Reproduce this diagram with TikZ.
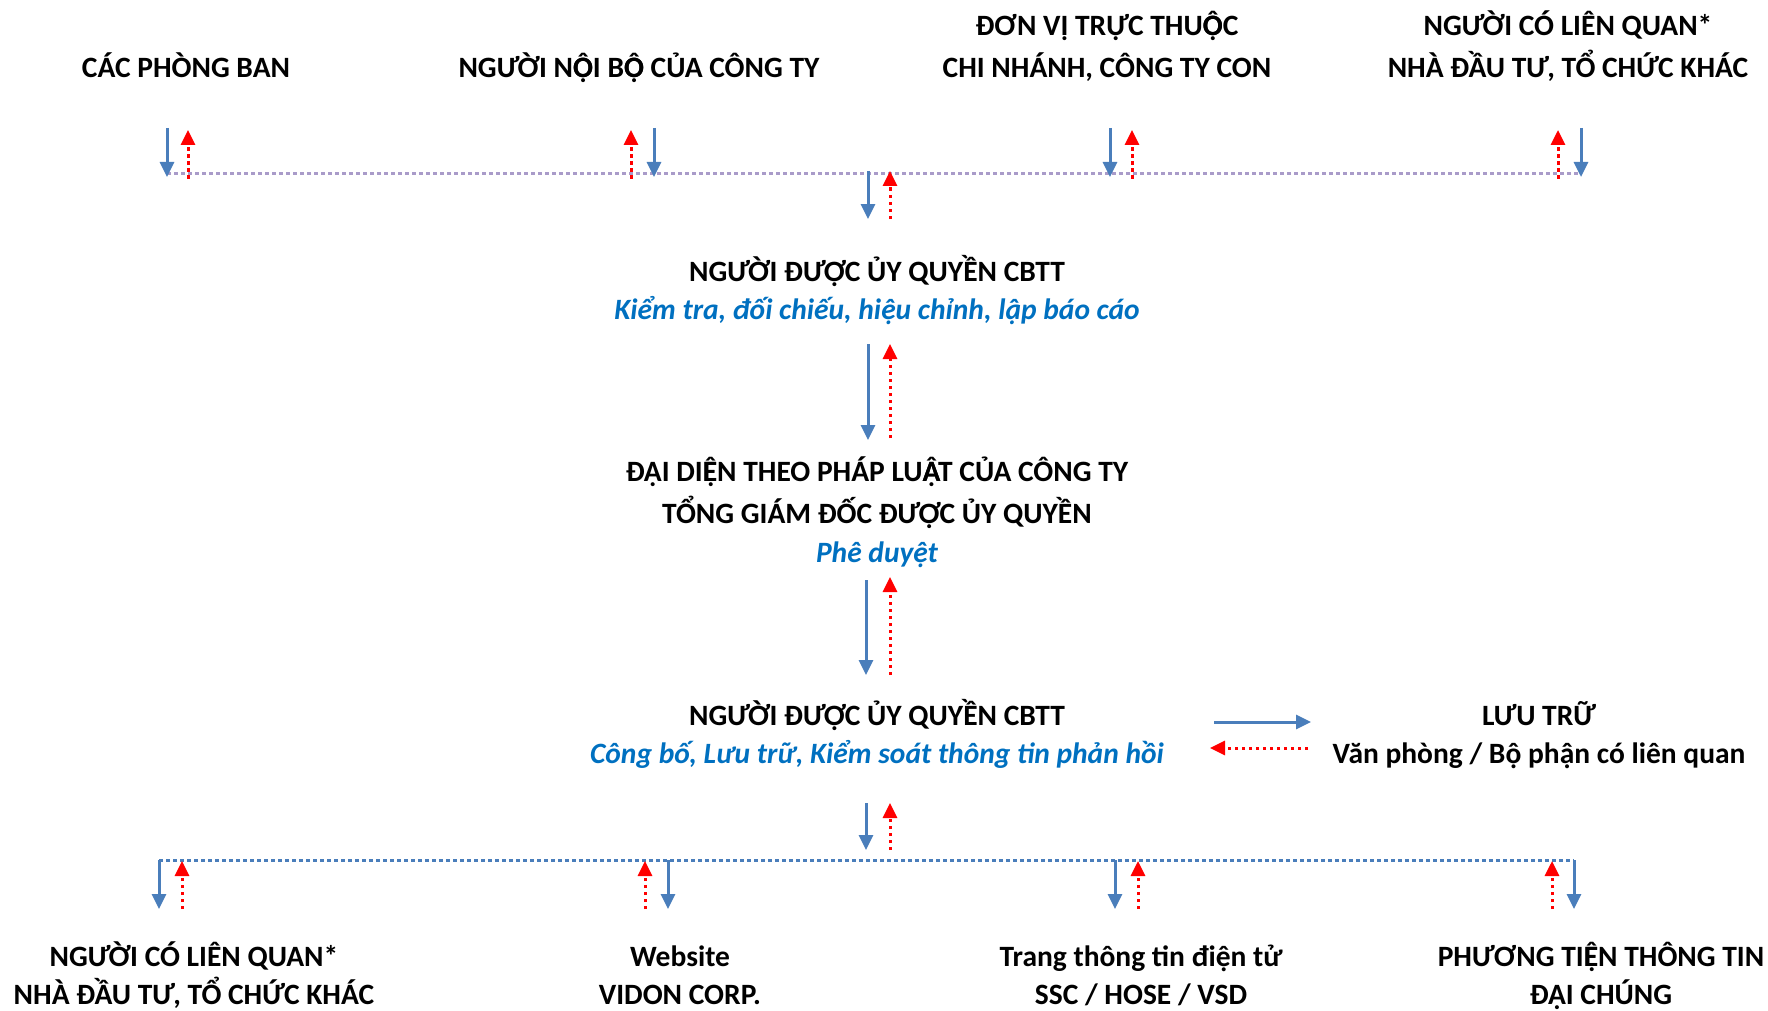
\documentclass[tikz,border=0pt]{standalone}
\usepackage{fontspec}
\setmainfont{Carlito}
\usetikzlibrary{arrows.meta}
\definecolor{arrowblue}{HTML}{4A7EBB}
\definecolor{subblue}{HTML}{0070C0}
\definecolor{lavender}{HTML}{A99BC9}
% upper-case letters with circumflex and dot below, built from two glyphs the font has
\newcommand\OhatDot{\rlap{Ọ}Ô}
\newcommand\EhatDot{\rlap{Ẹ}Ê}
\newcommand\AhatDot{\rlap{Ạ}Â}
\tikzset{
  lbl/.style={font=\fontsize{29.5}{34}\selectfont\bfseries, text=black, anchor=base, inner sep=0pt},
  sublbl/.style={font=\fontsize{29.5}{34}\selectfont\bfseries\itshape, text=subblue, anchor=base, inner sep=0pt},
  barrow/.style={draw=arrowblue, line width=3pt, -{Triangle[width=14pt,length=15pt]}},
  rarrow/.style={draw=red, line width=3pt, dash pattern=on 3.5pt off 3.5pt, -{Triangle[width=14pt,length=15pt]}},
  lavline/.style={draw=lavender, line width=3pt, dash pattern=on 3.5pt off 3.5pt},
  blueline/.style={draw=arrowblue, line width=3pt, dash pattern=on 3.5pt off 3.5pt}
}
\begin{document}
\begin{tikzpicture}[x=1pt,y=-1pt]
\useasboundingbox (0,0) rectangle (1768,1011);
% top labels
\node[lbl] (cpb) at (186,78) {CÁC PHÒNG BAN};
\node[lbl] (nnb) at (639,78) {NGƯỜI N\OhatDot I B\OhatDot{} CỦA CÔNG TY};
\node[lbl] (dv1) at (1107,36) {ĐƠN VỊ TRỰC THU\OhatDot C};
\node[lbl] (dv2) at (1107,78) {CHI NHÁNH, CÔNG TY CON};
\node[lbl] (nlq1) at (1568,36) {NGƯỜI CÓ LIÊN QUAN*};
\node[lbl] (nlq2) at (1568,78) {NHÀ ĐẦU TƯ, TỔ CHỨC KHÁC};
% top line
\coordinate (TL) at (167,174);
\coordinate (TR) at (1581,174);
\draw[lavline] (TL) -- (TR);
% top arrows
\coordinate (b1s) at (167,128); \coordinate (b1e) at (167,177);
\coordinate (r1s) at (188,179); \coordinate (r1e) at (188,130);
\coordinate (b2s) at (654,128); \coordinate (b2e) at (654,177);
\coordinate (r2s) at (631,179); \coordinate (r2e) at (631,130);
\coordinate (b3s) at (1110,128); \coordinate (b3e) at (1110,177);
\coordinate (r3s) at (1132,179); \coordinate (r3e) at (1132,130);
\coordinate (b4s) at (1581,128); \coordinate (b4e) at (1581,177);
\coordinate (r4s) at (1558,179); \coordinate (r4e) at (1558,130);
\draw[barrow] (b1s) -- (b1e); \draw[rarrow] (r1s) -- (r1e);
\draw[barrow] (b2s) -- (b2e); \draw[rarrow] (r2s) -- (r2e);
\draw[barrow] (b3s) -- (b3e); \draw[rarrow] (r3s) -- (r3e);
\draw[barrow] (b4s) -- (b4e); \draw[rarrow] (r4s) -- (r4e);
% center below top line
\coordinate (c1bs) at (868,171); \coordinate (c1be) at (868,219);
\coordinate (c1rs) at (890,219); \coordinate (c1re) at (890,171);
\draw[barrow] (c1bs) -- (c1be); \draw[rarrow] (c1rs) -- (c1re);
% node 1
\node[lbl] (n1) at (877,281) {NGƯỜI ĐƯỢC ỦY QUYỀN CBTT};
\node[sublbl] (n1s) at (877,319) {Kiểm tra, đối chiếu, hiệu chỉnh, lập báo cáo};
\coordinate (c2bs) at (868,344); \coordinate (c2be) at (868,440);
\coordinate (c2rs) at (890,438); \coordinate (c2re) at (890,344);
\draw[barrow] (c2bs) -- (c2be); \draw[rarrow] (c2rs) -- (c2re);
% node 2
\node[lbl] (n2a) at (877,481) {ĐẠI DI\EhatDot N THEO PHÁP LU\AhatDot T CỦA CÔNG TY};
\node[lbl] (n2b) at (877,523) {TỔNG GIÁM ĐỐC ĐƯỢC ỦY QUYỀN};
\node[sublbl] (n2s) at (877,562) {Phê duyệt};
\coordinate (c3bs) at (866,580); \coordinate (c3be) at (866,675);
\coordinate (c3rs) at (890,675); \coordinate (c3re) at (890,577);
\draw[barrow] (c3bs) -- (c3be); \draw[rarrow] (c3rs) -- (c3re);
% node 3
\node[lbl] (n3) at (877,725) {NGƯỜI ĐƯỢC ỦY QUYỀN CBTT};
\node[sublbl] (n3s) at (877,763) {Công bố, Lưu trữ, Kiểm soát thông tin phản hồi};
% archive
\node[lbl] (lt1) at (1539,725) {LƯU TRỮ};
\node[lbl] (lt2) at (1539,763) {Văn phòng / Bộ phận có liên quan};
\coordinate (hbs) at (1214,722); \coordinate (hbe) at (1311,722);
\coordinate (hrs) at (1308,748); \coordinate (hre) at (1210,748);
\draw[barrow] (hbs) -- (hbe); \draw[rarrow] (hrs) -- (hre);
% bottom center
\coordinate (c4bs) at (866,803); \coordinate (c4be) at (866,850);
\coordinate (c4rs) at (890,850); \coordinate (c4re) at (890,803);
\draw[barrow] (c4bs) -- (c4be); \draw[rarrow] (c4rs) -- (c4re);
% bottom line
\coordinate (BL) at (159,860);
\coordinate (BR) at (1574,860);
\draw[blueline] (BL) -- (BR);
% bottom arrows
\coordinate (d1s) at (159,860); \coordinate (d1e) at (159,909);
\coordinate (u1s) at (182,909); \coordinate (u1e) at (182,861);
\coordinate (d2s) at (668,860); \coordinate (d2e) at (668,909);
\coordinate (u2s) at (645,909); \coordinate (u2e) at (645,861);
\coordinate (d3s) at (1115,860); \coordinate (d3e) at (1115,909);
\coordinate (u3s) at (1138,909); \coordinate (u3e) at (1138,861);
\coordinate (d4s) at (1574,860); \coordinate (d4e) at (1574,909);
\coordinate (u4s) at (1552,909); \coordinate (u4e) at (1552,861);
\draw[barrow] (d1s) -- (d1e); \draw[rarrow] (u1s) -- (u1e);
\draw[barrow] (d2s) -- (d2e); \draw[rarrow] (u2s) -- (u2e);
\draw[barrow] (d3s) -- (d3e); \draw[rarrow] (u3s) -- (u3e);
\draw[barrow] (d4s) -- (d4e); \draw[rarrow] (u4s) -- (u4e);
% bottom labels
\node[lbl] (bl1) at (194,966) {NGƯỜI CÓ LIÊN QUAN*};
\node[lbl] (bl2) at (194,1004) {NHÀ ĐẦU TƯ, TỔ CHỨC KHÁC};
\node[lbl] (bw1) at (680,966) {Website};
\node[lbl] (bw2) at (680,1004) {VIDON CORP.};
\node[lbl] (bt1) at (1141,966) {Trang thông tin điện tử};
\node[lbl] (bt2) at (1141,1004) {SSC / HOSE / VSD};
\node[lbl] (bp1) at (1601,966) {PHƯƠNG TI\EhatDot N THÔNG TIN};
\node[lbl] (bp2) at (1601,1004) {ĐẠI CHÚNG};
\end{tikzpicture}
\end{document}
